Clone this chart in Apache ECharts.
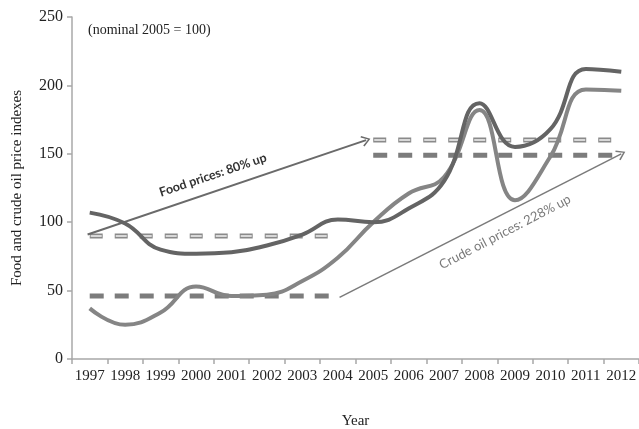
<!DOCTYPE html>
<html>
<head>
<meta charset="utf-8">
<script src="https://cdn.jsdelivr.net/npm/echarts@6/dist/echarts.min.js"></script>
<style>
	html, body { margin: 0; padding: 0; background: #fff; }
	#chart { width: 639px; height: 429px; }
</style>
</head>
<body>
<div id="chart"></div>
<script>
	// values
	var years = ['1997','1998','1999','2000','2001','2002','2003','2004','2005','2006','2007','2008','2009','2010','2011','2012']
	var foodIndex = [107, 99, 80, 77, 78, 83, 91, 102, 100, 110, 130, 187, 155, 168, 212, 210]
	var oilIndex = [37, 25, 34, 53, 46, 47, 57, 74, 100, 121, 133, 182, 116, 148, 197, 196]
	// average levels, first and second period
	var foodAvgEarly = [90, 90, 90, 90, 90, 90, 90, 90, '-', '-', '-', '-', '-', '-', '-', '-']
	var foodAvgLate = ['-', '-', '-', '-', '-', '-', '-', '-', 160, 160, 160, 160, 160, 160, 160, 160]
	var oilAvgEarly = [46, 46, 46, 46, 46, 46, 46, 46, '-', '-', '-', '-', '-', '-', '-', '-']
	var oilAvgLate = ['-', '-', '-', '-', '-', '-', '-', '-', 149, 149, 149, 149, 149, 149, 149, 149]
	// arrows, x as category index
	var foodArrow = [[-0.06, 91], [7.8, 160]]
	var oilArrow = [[7.05, 45], [15.0, 150]]

	var chevron = 'path://M5,0 L10,8.5 L8.8,9.5 L5,2.6 L1.2,9.5 L0,8.5 Z'
	var serif = '"Liberation Serif", "DejaVu Serif", serif'

	function avgLine(data, color, width, dash, offset, z) {
		return {
			type: 'line',
			data: data,
			symbol: 'none',
			silent: true,
			z: z,
			lineStyle: { color: color, width: width, type: dash, dashOffset: offset, cap: 'butt' }
		}
	}

	function arrow(pts, color, width) {
		return {
			type: 'line',
			xAxisIndex: 1,
			data: pts,
			symbol: 'none',
			silent: true,
			lineStyle: { opacity: 0 },
			markLine: {
				silent: true,
				symbol: ['none', chevron],
				symbolSize: [11, 9],
				label: { show: false },
				lineStyle: { color: color, width: width, type: 'solid' },
				data: [[{ coord: pts[0] }, { coord: pts[1] }]]
			}
		}
	}

	var chart = echarts.init(document.getElementById('chart'))
	chart.setOption({
		animation: false,
		grid: { left: 72, right: 0, top: 17, bottom: 70, containLabel: false, outerBoundsMode: 'none' },
		xAxis: [
			{
				type: 'category',
				data: years,
				boundaryGap: true,
				name: 'Year',
				nameLocation: 'middle',
				nameGap: 55,
				nameTextStyle: { fontFamily: serif, fontSize: 15, color: '#222' },
				axisLine: { onZero: false, lineStyle: { color: '#a8a8a8', width: 1.5 } },
				axisTick: { show: true, inside: false, length: 5, alignWithLabel: false, lineStyle: { color: '#a8a8a8', width: 1.5 } },
				axisLabel: { fontFamily: serif, fontSize: 15, color: '#222', margin: 10, interval: 0 },
				splitLine: { show: false }
			},
			{
				type: 'value',
				min: -0.5,
				max: 15.5,
				show: false
			}
		],
		yAxis: {
			type: 'value',
			min: 0,
			max: 250,
			interval: 50,
			name: 'Food and crude oil price indexes',
			nameLocation: 'middle',
			nameGap: 47,
			nameTextStyle: { fontFamily: serif, fontSize: 15, color: '#222' },
			axisLine: { show: true, onZero: false, lineStyle: { color: '#a8a8a8', width: 1.5 } },
			axisTick: { show: true, length: 5, lineStyle: { color: '#a8a8a8', width: 1.5 } },
			axisLabel: { fontFamily: serif, fontSize: 16, color: '#222', margin: 9 },
			splitLine: { show: false }
		},
		graphic: [
			{
				type: 'text', left: 88, top: 23,
				style: { text: '(nominal 2005 = 100)', fontFamily: serif, fontSize: 14, fill: '#222' }
			},
			{
				type: 'text', x: 213, y: 175, rotation: 18.5 * Math.PI / 180,
				style: { text: 'Food prices: 80% up', fontFamily: 'Lato, "Open Sans", sans-serif', fontWeight: 'bold', fontSize: 12.5, fill: '#333', align: 'center', verticalAlign: 'middle' }
			},
			{
				type: 'text', x: 505, y: 232, rotation: 27.5 * Math.PI / 180,
				style: { text: 'Crude oil prices: 228% up', fontFamily: 'Lato, "Open Sans", sans-serif', fontSize: 13, fill: '#7a7a7a', align: 'center', verticalAlign: 'middle' }
			}
		],
		series: [
			// food average: hollow dashes (dark outline under light fill)
			avgLine(foodAvgEarly, '#8a8a8a', 5, [13, 12], 0, 2),
			avgLine(foodAvgEarly, '#d8d8d8', 2, [11, 14], -1, 3),
			avgLine(foodAvgLate, '#8a8a8a', 5, [13, 12], 0, 2),
			avgLine(foodAvgLate, '#d8d8d8', 2, [11, 14], -1, 3),
			// crude oil average: solid dashes
			avgLine(oilAvgEarly, '#7c7c7c', 5, [14, 11], 0, 2),
			avgLine(oilAvgLate, '#7c7c7c', 5, [14, 11], 0, 2),
			{
				name: 'Crude oil',
				type: 'line',
				data: oilIndex,
				smooth: 0.45,
				symbol: 'none',
				z: 4,
				lineStyle: { color: '#858585', width: 4 }
			},
			{
				name: 'Food',
				type: 'line',
				data: foodIndex,
				smooth: 0.45,
				symbol: 'none',
				z: 5,
				lineStyle: { color: '#646464', width: 4 }
			},
			arrow(foodArrow, '#6a6a6a', 2),
			arrow(oilArrow, '#7a7a7a', 1.5)
		]
	})
</script>
</body>
</html>
